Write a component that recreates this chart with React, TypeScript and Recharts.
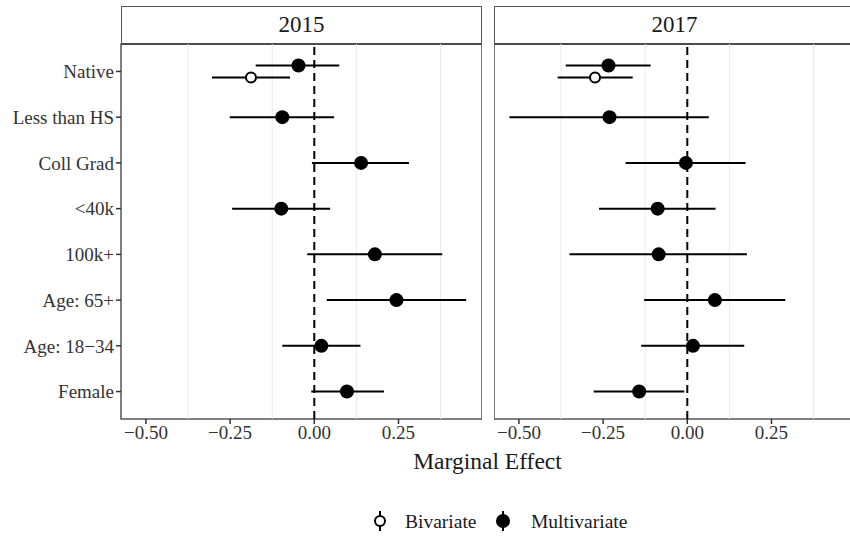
import React from "react"
import { ErrorBar, ReferenceArea, ReferenceLine, Scatter, ScatterChart, XAxis, YAxis } from "recharts"

// Terms, top to bottom as drawn in each facet
const TERMS = ["Native", "Less than HS", "Coll Grad", "<40k", "100k+", "Age: 65+", "Age: 18\u221234", "Female"]

// Multivariate estimates and 95% intervals
const MULTI_2015 = [-0.047, -0.095, 0.139, -0.098, 0.18, 0.244, 0.021, 0.097]
const MULTI_2015_LO = [-0.174, -0.251, -0.007, -0.244, -0.021, 0.037, -0.095, -0.009]
const MULTI_2015_HI = [0.074, 0.059, 0.281, 0.047, 0.38, 0.451, 0.137, 0.207]

const MULTI_2017 = [-0.234, -0.231, -0.004, -0.088, -0.085, 0.082, 0.017, -0.143]
const MULTI_2017_LO = [-0.361, -0.528, -0.183, -0.262, -0.35, -0.128, -0.137, -0.278]
const MULTI_2017_HI = [-0.109, 0.064, 0.173, 0.084, 0.177, 0.291, 0.169, -0.009]

// Bivariate model only exists for "Native"
const BIV_TERMS = ["Native"]
const BIV_2015 = [-0.188]
const BIV_2015_LO = [-0.304]
const BIV_2015_HI = [-0.072]
const BIV_2017 = [-0.274]
const BIV_2017_LO = [-0.385]
const BIV_2017_HI = [-0.162]

const X_TICKS = [-0.5, -0.25, 0, 0.25]
const X_MINOR = [-0.375, -0.125, 0.125, 0.375]
const X_DOMAIN: [number, number] = [-0.574, 0.498]
const Y_DOMAIN: [number, number] = [0.4, 8.6]
const DODGE = 0.13

const FONT = "'Liberation Serif', 'Times New Roman', serif"
const TEXT = "#333"
const BORDER = "#555"

const yPos = (term: string) => TERMS.length - TERMS.indexOf(term)

function buildRows(terms: string[], est: number[], lo: number[], hi: number[], offset: number) {
  return terms.map((term, i) => ({
    term,
    x: est[i],
    y: yPos(term) + offset,
    err: [est[i] - lo[i], hi[i] - est[i]],
  }))
}

const fmtX = (v: number) => v.toFixed(2).replace("-", "\u2212")

const FilledDot = (props: any) => <circle cx={props.cx} cy={props.cy} r={7} fill="#000" />
const OpenDot = (props: any) => (
  <circle cx={props.cx} cy={props.cy} r={5} fill="#fff" stroke="#000" strokeWidth={2} />
)

type PanelProps = {
  year: string
  multi: ReturnType<typeof buildRows>
  biv: ReturnType<typeof buildRows>
  left: number
  showY: boolean
}

function Panel({ year, multi, biv, left, showY }: PanelProps) {
  const yw = showY ? 121 : 0
  return (
    <div style={{ position: "absolute", left, top: 0 }}>
      <div
        style={{
          position: "absolute",
          left: yw,
          top: 6,
          width: 361,
          height: 39,
          boxSizing: "border-box",
          border: `1.5px solid ${BORDER}`,
          borderBottom: "2px solid #333",
          background: "#fff",
          fontFamily: FONT,
          fontSize: 23,
          color: "#1a1a1a",
          textAlign: "center",
          lineHeight: "36px",
        }}
      >
        {year}
      </div>
      <ScatterChart width={yw + 361} height={449} margin={{ top: 44, right: 0, bottom: 0, left: 0 }}>
        <XAxis
          type="number"
          dataKey="x"
          domain={X_DOMAIN}
          ticks={X_TICKS}
          allowDataOverflow
          tickFormatter={fmtX}
          axisLine={false}
          tickLine={{ stroke: "#333", strokeWidth: 1.5 }}
          tickSize={5}
          height={30}
          tick={{ fontFamily: FONT, fontSize: 19, fill: TEXT }}
        />
        <YAxis
          type="number"
          dataKey="y"
          domain={Y_DOMAIN}
          ticks={TERMS.map(yPos)}
          allowDataOverflow
          hide={!showY}
          width={yw}
          tickFormatter={(v: number) => TERMS[TERMS.length - v]}
          axisLine={false}
          tickLine={{ stroke: "#333", strokeWidth: 1.5 }}
          tickSize={5}
          tick={{ fontFamily: FONT, fontSize: 19, fill: TEXT }}
          interval={0}
        />
        {X_MINOR.map((v) => (
          <ReferenceLine key={v} x={v} stroke="#ebebeb" strokeWidth={1} />
        ))}
        <ReferenceLine x={0} stroke="#000" strokeWidth={2} strokeDasharray="8 5" />
        <Scatter data={biv} shape={OpenDot} isAnimationActive={false}>
          <ErrorBar dataKey="err" direction="x" width={0} stroke="#000" strokeWidth={2} />
        </Scatter>
        <Scatter data={multi} shape={FilledDot} isAnimationActive={false}>
          <ErrorBar dataKey="err" direction="x" width={0} stroke="#000" strokeWidth={2} />
        </Scatter>
        <ReferenceArea
          x1={X_DOMAIN[0]}
          x2={X_DOMAIN[1]}
          y1={Y_DOMAIN[0]}
          y2={Y_DOMAIN[1]}
          fill="none"
          stroke={BORDER}
          strokeWidth={1.5}
        />
      </ScatterChart>
    </div>
  )
}

export default function App() {
  const multi15 = buildRows(TERMS, MULTI_2015, MULTI_2015_LO, MULTI_2015_HI, 0)
  const multi17 = buildRows(TERMS, MULTI_2017, MULTI_2017_LO, MULTI_2017_HI, 0)
  // dodge the Native row where both models are shown
  multi15[0].y += DODGE
  multi17[0].y += DODGE
  const biv15 = buildRows(BIV_TERMS, BIV_2015, BIV_2015_LO, BIV_2015_HI, -DODGE)
  const biv17 = buildRows(BIV_TERMS, BIV_2017, BIV_2017_LO, BIV_2017_HI, -DODGE)

  return (
    <div
      style={{
        position: "absolute",
        left: 0,
        top: 0,
        width: 850,
        height: 540,
        overflow: "hidden",
        background: "#fff",
      }}
    >
      <Panel year="2015" multi={multi15} biv={biv15} left={0} showY />
      <Panel year="2017" multi={multi17} biv={biv17} left={494} showY={false} />
      <div
        style={{
          position: "absolute",
          left: 0,
          width: 975,
          top: 448,
          textAlign: "center",
          fontFamily: FONT,
          fontSize: 23.5,
          color: "#1a1a1a",
        }}
      >
        Marginal Effect
      </div>
      <svg style={{ position: "absolute", left: 0, top: 500 }} width={850} height={40}>
        <line x1={380} x2={380} y1={11} y2={31} stroke="#000" strokeWidth={2} />
        <circle cx={380} cy={21} r={5} fill="#fff" stroke="#000" strokeWidth={2} />
        <text x={405} y={28} fontFamily={FONT} fontSize={19.5} fill="#1a1a1a">
          Bivariate
        </text>
        <line x1={503} x2={503} y1={11} y2={31} stroke="#000" strokeWidth={2} />
        <circle cx={503} cy={21} r={7} fill="#000" />
        <text x={531} y={28} fontFamily={FONT} fontSize={19.5} fill="#1a1a1a">
          Multivariate
        </text>
      </svg>
    </div>
  )
}
